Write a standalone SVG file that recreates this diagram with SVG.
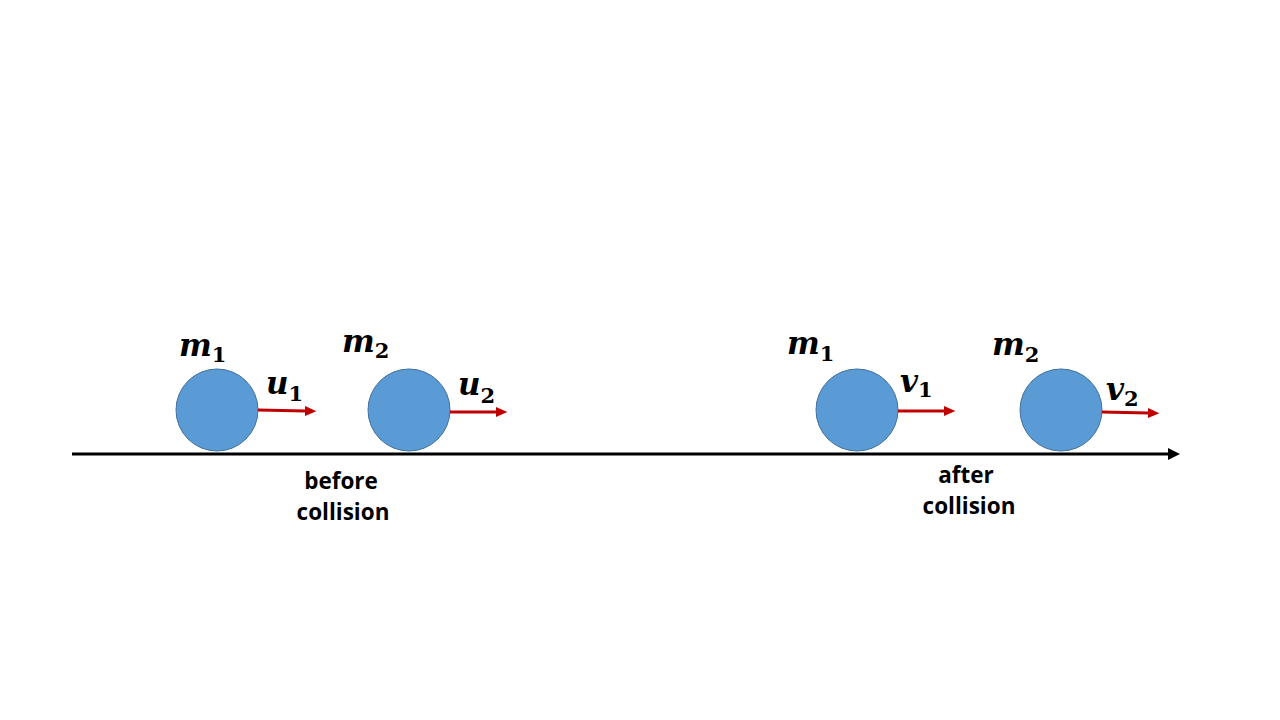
<svg xmlns="http://www.w3.org/2000/svg" width="1280" height="720" viewBox="0 0 1280 720">
<style>
.ball{fill:#5B9BD5;stroke:#41719C;stroke-width:1}
.sym{font-family:"DejaVu Serif",serif;font-style:italic;font-weight:bold;font-size:31px;fill:#000}
.sub{font-size:21px;font-style:normal}
.lbl{font-family:"Open Sans",Lato,sans-serif;font-weight:bold;font-size:22.5px;fill:#000;text-anchor:middle}
.vel{stroke:#C00000;stroke-width:3;fill:none}
</style>
<defs>
<marker id="redhead" markerWidth="4.5" markerHeight="4" refX="0" refY="2" orient="auto" markerUnits="strokeWidth">
<path d="M0,0.3 L3.8,2 L0,3.7 Z" fill="#C00000"/>
</marker>
<marker id="blackhead" markerWidth="5" markerHeight="5" refX="0" refY="2" orient="auto" markerUnits="strokeWidth">
<path d="M0,0 L4,2 L0,4 Z" fill="#000"/>
</marker>
</defs>
<rect width="1280" height="720" fill="#fff"/>
<g id="axis">
<line x1="72" y1="454" x2="1168" y2="454" stroke="#000" stroke-width="3" marker-end="url(#blackhead)"/>
</g>
<g id="ball1"><circle class="ball" cx="217" cy="410" r="41"/>
<text class="sym" x="179" y="356">m<tspan class="sub" y="362">1</tspan></text></g>
<g id="ball2"><circle class="ball" cx="409" cy="410" r="41"/>
<text class="sym" x="342" y="352">m<tspan class="sub" y="358">2</tspan></text></g>
<g id="ball3"><circle class="ball" cx="857" cy="410" r="41"/>
<text class="sym" x="787" y="354">m<tspan class="sub" y="361">1</tspan></text></g>
<g id="ball4"><circle class="ball" cx="1061" cy="410" r="41"/>
<text class="sym" x="992" y="355">m<tspan class="sub" y="362">2</tspan></text></g>
<g id="connectors">
<line class="vel" x1="258" y1="410" x2="305" y2="411" marker-end="url(#redhead)"/>
<line class="vel" x1="450" y1="412" x2="496" y2="412" marker-end="url(#redhead)"/>
<line class="vel" x1="898" y1="411" x2="944" y2="411" marker-end="url(#redhead)"/>
<line class="vel" x1="1102" y1="412" x2="1148" y2="413" marker-end="url(#redhead)"/>
</g>
<g id="velocity-labels">
<text class="sym" x="266" y="394">u<tspan class="sub" y="401">1</tspan></text>
<text class="sym" x="458" y="395">u<tspan class="sub" y="403">2</tspan></text>
<text class="sym" x="900" y="392">v<tspan class="sub" y="397">1</tspan></text>
<text class="sym" x="1106" y="400">v<tspan class="sub" y="406">2</tspan></text>
</g>
<g id="captions">
<text class="lbl" x="341" y="489">before</text>
<text class="lbl" x="343" y="520">collision</text>
<text class="lbl" x="966" y="483">after</text>
<text class="lbl" x="969" y="514">collision</text>
</g>
</svg>
